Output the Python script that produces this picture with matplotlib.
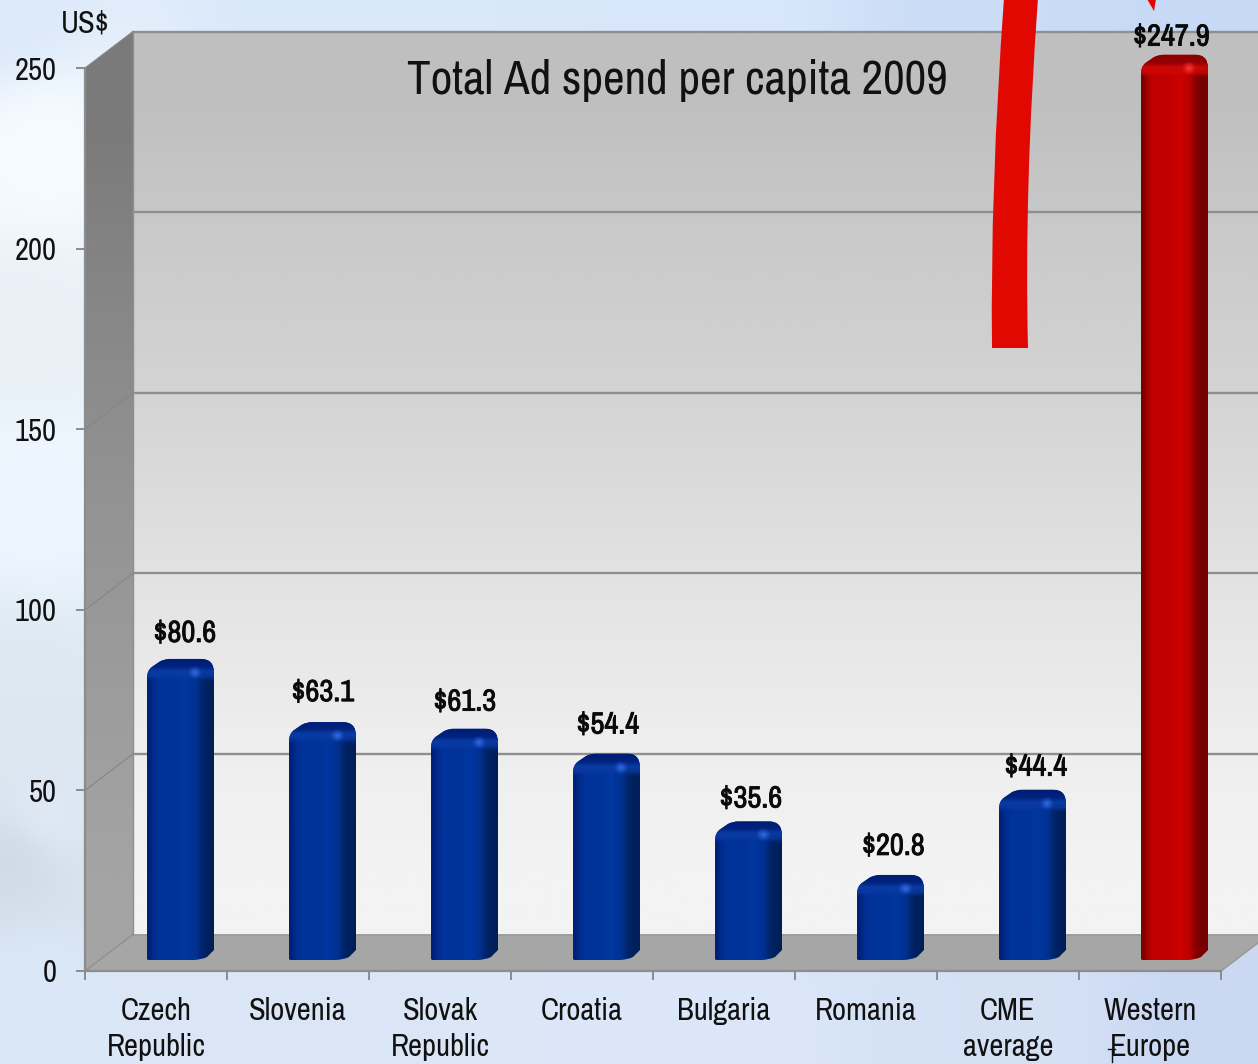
import numpy as np
import matplotlib
matplotlib.use("Agg")
import matplotlib.pyplot as plt
import matplotlib.patheffects as pe
from matplotlib.lines import Line2D
from matplotlib.path import Path
from matplotlib.patches import PathPatch, Polygon
from matplotlib.colors import to_rgb, to_rgba
from matplotlib.transforms import Affine2D

categories = ["Czech\nRepublic", "Slovenia", "Slovak\nRepublic", "Croatia",
              "Bulgaria", "Romania", "CME\naverage", "Western\nEurope"]
spend = [80.6, 63.1, 61.3, 54.4, 35.6, 20.8, 44.4, 247.9]
value_labels = ["$80.6", "$63.1", "$61.3", "$54.4", "$35.6", "$20.8", "$44.4", "$247.9"]
y_ticks = [0, 50, 100, 150, 200, 250]
highlighted = [False, False, False, False, False, False, False, True]

# per-label nudges in pixels (right, up) from the bar's top centre
label_dx = [4.5, 0.5, 0.5, 1.5, 2.5, 3.0, 3.5, -3.0]
label_dy = [26, 30, 27, 29, 23, 29, 23, 18]

W, H = 1258, 1064
plt.rcParams["font.family"] = ["Archivo Narrow", "Roboto Condensed", "DejaVu Sans"]
TEXT = "#111111"

fig = plt.figure(figsize=(W / 100, H / 100), dpi=100)

# Soft pale-blue backdrop
bg = fig.add_axes([0, 0, 1, 1], zorder=0)
bg.axis("off")
anchors = [
    (0, 0, "#dce9f9"), (300, 0, "#d9e8fb"), (700, 10, "#d8e7fb"), (1000, 10, "#cbdcf6"),
    (1250, 10, "#c6d9f5"), (40, 150, "#f6fbff"), (20, 330, "#e9f0f6"), (30, 500, "#eef7ff"),
    (10, 700, "#dde8f2"), (40, 820, "#dfe9f5"), (10, 860, "#cfdbe6"), (30, 1000, "#dbe8f8"),
    (300, 1030, "#dbe7f7"), (700, 1030, "#dce8f9"), (980, 1030, "#d5e2f6"),
    (1240, 1030, "#cbd8f2"), (1245, 600, "#cfdcf4"),
]
gy, gx = np.mgrid[0:H:107j, 0:W:127j]
acc = np.zeros(gx.shape + (3,))
wsum = np.zeros(gx.shape)
for ax_, ay_, c in anchors:
    wt = 1.0 / ((gx - ax_) ** 2 + (gy - ay_) ** 2 + 400.0) ** 1.5
    acc += wt[..., None] * np.array(to_rgb(c))
    wsum += wt
bg.imshow(acc / wsum[..., None], extent=[0, W, H, 0], aspect="auto", interpolation="bicubic")

# Front plane of the 3-D box carries the value and category scales
X0, X1, Y0, Y250 = 85, 1221, 971, 68
ax = fig.add_axes([X0 / W, 1 - Y0 / H, (X1 - X0) / W, (Y0 - Y250) / H], zorder=1)
ax.patch.set_visible(False)
ax.autoscale(False)
n_cat = len(categories)
ax.set_xlim(0, n_cat)
ax.set_ylim(0, 250)
PX = n_cat / (X1 - X0)        # data units per pixel, horizontal
PY = 250 / (Y0 - Y250)        # data units per pixel, vertical
DX, DY = 48 * PX, 36.5 * PY   # depth of the box


def gradient(colors, extent, clip, horizontal=False, z=1):
    """Paint a colour ramp over extent, clipped to the given path."""
    arr = np.array([to_rgba(c) for c in colors])
    arr = arr[None, :, :] if horizontal else arr[:, None, :]
    im = ax.imshow(arr, extent=extent, aspect="auto", interpolation="bilinear",
                   zorder=z, origin="upper")
    patch = PathPatch(clip, transform=ax.transData, fc="none", ec="none")
    im.set_clip_path(patch)
    im.set_clip_box(fig.bbox)
    return im


right_end = n_cat + DX

# Back wall, side wall, floor
back = Path([(DX, DY), (right_end, DY), (right_end, 250 + DY), (DX, 250 + DY), (DX, DY)])
gradient(["#bfbfbf", "#c9c9c9", "#d1d1d1", "#dbdbdb", "#e5e5e5", "#eeeeee", "#f3f3f3"],
         [DX, right_end, DY, 250 + DY], back, z=1)
side = Path([(0, 0), (DX, DY), (DX, 250 + DY), (0, 250), (0, 0)])
gradient(["#7a7a7a", "#878787", "#939393", "#9c9c9c", "#a4a4a4"],
         [0, DX, 0, 250 + DY], side, z=1.1)
ax.add_patch(Polygon([(0, 0), (DX, DY), (right_end, DY), (n_cat, 0)],
                     closed=True, fc="#a6a6a6", ec="none", zorder=1.2, clip_on=False))

# Gridlines run along the back wall and down the side wall
GRID = "#8f8f8f"
for t in y_ticks[1:]:
    ax.plot([DX, right_end], [t + DY, t + DY], color=GRID, lw=1.7, zorder=1.3, clip_on=False)
    ax.plot([0, DX], [t, t + DY], color="#858585", lw=0.8, zorder=1.3, clip_on=False)
ax.plot([DX, DX], [DY, 250 + DY], color="#8f8f8f", lw=1.0, zorder=1.3, clip_on=False)
ax.plot([DX, right_end], [DY, DY], color="#999999", lw=1.2, zorder=1.3, clip_on=False)
ax.plot([0, DX], [0, DY], color="#8a8a8a", lw=0.8, zorder=1.3, clip_on=False)
ax.plot([n_cat, right_end], [0, DY], color="#9a9a9a", lw=1.2, zorder=1.3, clip_on=False)

# Bars: rounded 3-D columns
BAR_W = 67 * PX
BAR_OFF = 62 * PX
BASE = 11 * PY
TOP_EXTRA = 5.8
blue_ramp = ["#00217a", "#002e90", "#003399", "#003399", "#003399", "#003399", "#00359c",
             "#0037a2", "#003399", "#00318f", "#00266f", "#00205e", "#001f5a"]
red_ramp = ["#7d0000", "#b00000", "#c00000", "#c00000", "#c00000", "#c00000", "#c60000",
            "#cf0000", "#c40000", "#b80000", "#8a0000", "#7a0000", "#760000"]


def bar_outline(x, top):
    def u(p):
        return x + p * PX

    def v(p):
        return top - p * PY
    verts = [(u(0), BASE + 1 * PY), (u(1), BASE), (u(46), BASE),
             (u(54), BASE), (u(60), BASE + 3 * PY), (u(67), BASE + 10 * PY),
             (u(67), v(14)), (u(67), v(0)), (u(54), v(0)),
             (u(23), v(0)), (u(18), v(0)), (u(13), v(2.5)),
             (u(5), v(8)), (u(0), v(11.5)), (u(0), v(19)),
             (u(0), BASE + 1 * PY)]
    codes = [Path.MOVETO, Path.LINETO, Path.LINETO,
             Path.CURVE3, Path.CURVE3, Path.LINETO,
             Path.LINETO, Path.CURVE3, Path.CURVE3,
             Path.LINETO, Path.CURVE3, Path.CURVE3,
             Path.LINETO, Path.CURVE3, Path.CURVE3,
             Path.CLOSEPOLY]
    return Path(verts, codes)


for i, (val, hot) in enumerate(zip(spend, highlighted)):
    x = i + BAR_OFF
    top = val + TOP_EXTRA
    outline = bar_outline(x, top)
    z = 2 + i * 0.01
    gradient(red_ramp if hot else blue_ramp, [x, x + BAR_W, 0, top], outline, horizontal=True, z=z)

    # Lit upper surface of the rounded cap
    if hot:
        cap = [(0.55, 0, 0, 1), (0.58, 0, 0, 1), (0.80, 0.03, 0.03, 1), (0.82, 0.03, 0.03, 0.75),
               (0.78, 0, 0, 0), (0.78, 0, 0, 0)]
        glow = (1.0, 0.22, 0.22)
    else:
        cap = [(0, 0.12, 0.46, 1), (0, 0.14, 0.50, 1), (0.04, 0.23, 0.64, 1), (0.04, 0.23, 0.64, 0.75),
               (0, 0.2, 0.6, 0), (0, 0.2, 0.6, 0)]
        glow = (0.2, 0.42, 0.9)
    gradient(cap, [x, x + BAR_W, top - 30 * PY, top], outline, z=z + 0.001)

    # Small specular spot near the cap's right shoulder
    n = 15
    yy, xx = np.mgrid[-1:1:n * 1j, -1:1:n * 1j]
    spot = np.zeros((n, n, 4))
    spot[..., :3] = glow
    spot[..., 3] = np.clip(1 - np.hypot(xx, yy), 0, 1) ** 1.2
    spot_im = ax.imshow(spot, extent=[x + 40 * PX, x + 56 * PX, top - 21 * PY, top - 6 * PY],
                        aspect="auto", interpolation="bilinear", zorder=z + 0.002)
    spot_im.set_clip_box(fig.bbox)

    ax.annotate(value_labels[i], xy=(x + BAR_W / 2, top),
                xytext=(label_dx[i] * 0.72, label_dy[i] * 0.72), textcoords="offset points",
                ha="center", va="center", fontsize=22, color="#0a0a0a",
                path_effects=[pe.withStroke(linewidth=0.6, foreground="#0a0a0a")],
                zorder=6, annotation_clip=False)

# Scales on the front plane
for s in ("top", "right"):
    ax.spines[s].set_visible(False)
for s in ("left", "bottom"):
    ax.spines[s].set_color("#8c8c8c")
    ax.spines[s].set_linewidth(1.6)
    ax.spines[s].set_zorder(1.5)
ax.set_yticks(y_ticks)
ax.set_yticklabels([str(t) for t in y_ticks])
ax.tick_params(axis="y", direction="out", length=6.5, width=1.4, color="#8c8c8c", pad=14,
               labelsize=22, labelcolor=TEXT)
ax.set_xticks(np.arange(n_cat + 1))
ax.set_xticklabels([])
ax.set_xticks(np.arange(n_cat) + 0.5, minor=True)
ax.set_xticklabels(categories, minor=True, fontsize=22, color=TEXT, linespacing=1.38)
ax.tick_params(axis="x", which="major", direction="out", length=6.5, width=1.4, color="#8c8c8c")
ax.tick_params(axis="x", which="minor", length=0, pad=18.5)

# Free-standing text and the callout arrow, placed in pixel space
px = Affine2D().scale(1 / W, -1 / H).translate(0, 1) + fig.transFigure
fig.text(85.5 / W, 1 - 24 / H, "US$", ha="center", va="center", fontsize=22, color=TEXT, zorder=5)
fig.text(677 / W, 1 - 80 / H, "Total Ad spend per capita 2009", ha="center", va="center",
         fontsize=34, color=TEXT, zorder=5)

ARROW = "#e00800"
shaft = Path([(992, 348), (990, 190), (1004, -2), (1038, -2), (1024, 190), (1028, 348), (992, 348)],
             [Path.MOVETO, Path.CURVE3, Path.CURVE3, Path.LINETO, Path.CURVE3, Path.CURVE3, Path.CLOSEPOLY])
fig.add_artist(PathPatch(shaft, fc=ARROW, ec="none", transform=px, zorder=4))
fig.add_artist(Polygon([(1147, -1), (1156, -1), (1154, 11)], closed=True, fc=ARROW, ec="none",
                       transform=px, zorder=4))

# Stray cross-stroke beside the last category label
fig.add_artist(Line2D([1108, 1115], [1049, 1049], color=TEXT, lw=1.0, transform=px, zorder=5))
fig.add_artist(Line2D([1112, 1112], [1049, 1062], color=TEXT, lw=1.0, transform=px, zorder=5))

fig.savefig("out.png", dpi=100)
